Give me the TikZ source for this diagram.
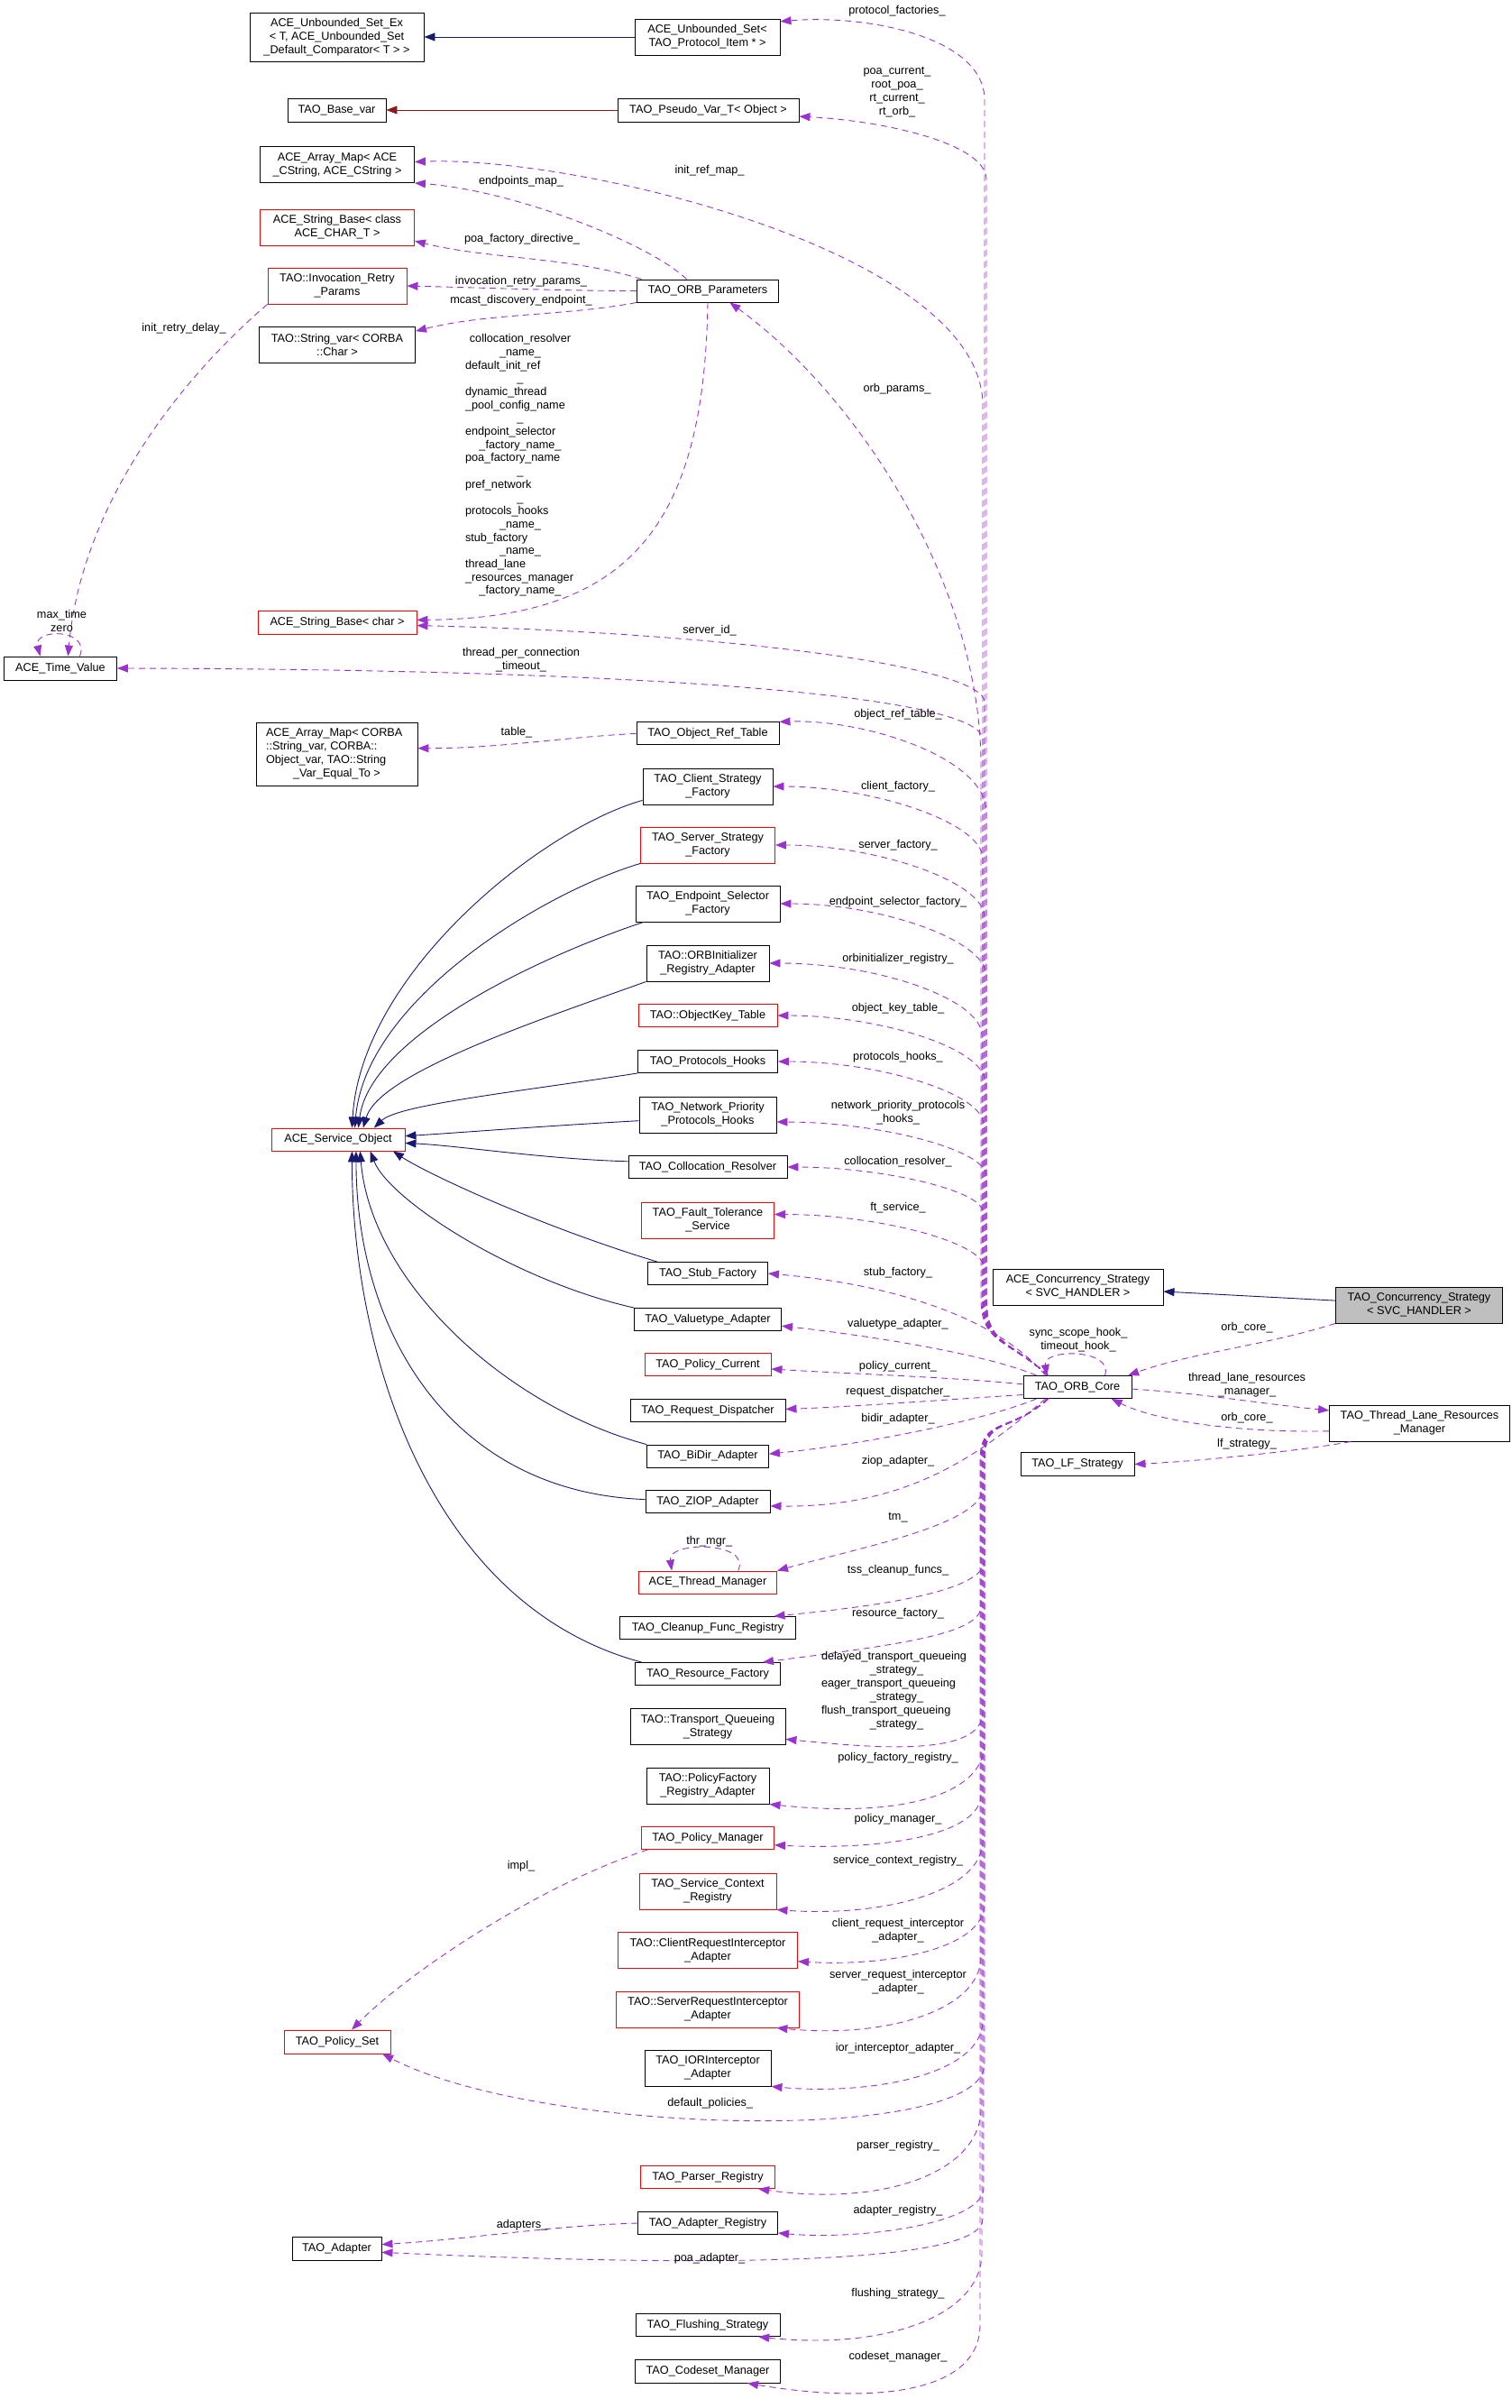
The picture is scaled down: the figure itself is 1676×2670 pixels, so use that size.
\documentclass[tikz,border=0pt]{standalone}
\usepackage{fontspec}
\setmainfont{Liberation Sans}
\usetikzlibrary{arrows.meta,calc}
\definecolor{edgepurple}{HTML}{9A32CD}
\definecolor{inhblue}{HTML}{191970}
\definecolor{inhred}{HTML}{8B1A1A}
\definecolor{boxgray}{HTML}{BFBFBF}
\newcommand\dgfont{\fontsize{12.7}{15}\selectfont}
\newcommand\ctrline[2]{\makebox[#1][c]{#2}}
\tikzset{
  cls/.style={draw=black, line width=0.9pt, fill=white, inner sep=2pt, align=center, font=\dgfont, minimum height=25pt},
  clsred/.style={cls, draw=red},
  two/.style={minimum height=40pt},
  lbl/.style={inner sep=0pt, align=center, font=\dgfont},
  member/.style={draw=edgepurple, line width=0.9pt, dash pattern=on 7pt off 5pt, -{Triangle[length=12pt,width=9pt]}},
  pubinh/.style={draw=inhblue, line width=0.9pt, -{Triangle[length=12pt,width=9pt]}},
  privinh/.style={draw=inhred, line width=0.9pt, -{Triangle[length=12pt,width=9pt]}}
}
\newcommand\uplink[5]{\draw[member] ([xshift=28pt]core.north west) .. controls +(-45,-40) and +(0,50) .. ($(bup)+(#2,0)$) -- ($(bup |- #1)+(#2,#3)$) .. controls +(0,#4) and +#5 .. (#1);}
\newcommand\dnlink[5]{\draw[member] ([xshift=28pt]core.south west) .. controls +(-45,40) and +(0,-50) .. ($(bdn)+(#2,0)$) -- ($(bdn |- #1)+(#2,#3)$) .. controls +(0,#4) and +#5 .. (#1);}
\begin{document}
\begin{tikzpicture}[x=1pt, y=-1pt]
\useasboundingbox (0,0) rectangle (1676,2670);

\node (use) at (373.5,41) [cls, minimum width=193pt, minimum height=54pt] {ACE\_Unbounded\_Set\_Ex\\< T, ACE\_Unbounded\_Set\\\_Default\_Comparator< T > >};
\node (us) at (784.5,41) [cls, two, minimum width=161pt] {ACE\_Unbounded\_Set<\\ TAO\_Protocol\_Item * >};
\node (bv) at (373.5,122) [cls, minimum width=109pt, minimum height=26pt] {TAO\_Base\_var};
\node (pv) at (785.5,122) [cls, minimum width=201pt, minimum height=26pt] {TAO\_Pseudo\_Var\_T< Object >};
\node (am) at (374,182.5) [cls, two, minimum width=171pt] {ACE\_Array\_Map< ACE\\\_CString, ACE\_CString >};
\node (sbc) at (374,252) [clsred, two, minimum width=171pt] {ACE\_String\_Base< class\\ ACE\_CHAR\_T >};
\node (irp) at (374,317) [clsred, two, minimum width=154pt] {TAO::Invocation\_Retry\\\_Params};
\node (sv) at (374,382.5) [cls, two, minimum width=173pt] {TAO::String\_var< CORBA\\::Char >};
\node (op) at (785,322.5) [cls, minimum width=157pt] {TAO\_ORB\_Parameters};
\node (sb) at (374,690.5) [clsred, minimum width=176pt, minimum height=26pt] {ACE\_String\_Base< char >};
\node (tv) at (67,741) [cls, minimum width=125pt, minimum height=26pt] {ACE\_Time\_Value};
\node (amc) at (373.5,836) [cls, align=left, minimum width=179pt, minimum height=70pt] {ACE\_Array\_Map< CORBA\\::String\_var, CORBA::\\Object\_var, TAO::String\\\ctrline{157pt}{\_Var\_Equal\_To >}};
\node (ort) at (785,813.3) [cls, minimum width=158pt] {TAO\_Object\_Ref\_Table};
\node (csf) at (785,872) [cls, two, minimum width=144pt] {TAO\_Client\_Strategy\\\_Factory};
\node (ssf) at (785,937) [clsred, two, minimum width=149pt] {TAO\_Server\_Strategy\\\_Factory};
\node (esf) at (785,1002) [cls, two, minimum width=160pt] {TAO\_Endpoint\_Selector\\\_Factory};
\node (orbi) at (785,1068) [cls, two, minimum width=136pt] {TAO::ORBInitializer\\\_Registry\_Adapter};
\node (okt) at (785,1126) [clsred, minimum width=154pt] {TAO::ObjectKey\_Table};
\node (ph) at (785,1177) [cls, minimum width=155pt] {TAO\_Protocols\_Hooks};
\node (npph) at (785,1236) [cls, two, minimum width=152pt] {TAO\_Network\_Priority\\\_Protocols\_Hooks};
\node (cr) at (785,1294) [cls, minimum width=176pt] {TAO\_Collocation\_Resolver};
\node (fts) at (785,1353) [clsred, two, minimum width=147pt] {TAO\_Fault\_Tolerance\\\_Service};
\node (sf) at (785,1412) [cls, minimum width=133pt] {TAO\_Stub\_Factory};
\node (vta) at (785,1463) [cls, minimum width=163pt] {TAO\_Valuetype\_Adapter};
\node (pc) at (785,1513) [clsred, minimum width=140pt] {TAO\_Policy\_Current};
\node (rd) at (785,1564) [cls, minimum width=172pt] {TAO\_Request\_Dispatcher};
\node (bda) at (785,1614.5) [cls, minimum width=135pt] {TAO\_BiDir\_Adapter};
\node (zia) at (785,1665) [cls, minimum width=138pt] {TAO\_ZIOP\_Adapter};
\node (atm) at (785,1754.5) [clsred, minimum width=153pt] {ACE\_Thread\_Manager};
\node (cfr) at (785,1805) [cls, minimum width=195pt] {TAO\_Cleanup\_Func\_Registry};
\node (rf) at (785,1856) [cls, minimum width=161pt] {TAO\_Resource\_Factory};
\node (tqs) at (785,1914.7) [cls, two, minimum width=172pt] {TAO::Transport\_Queueing\\\_Strategy};
\node (pfra) at (785,1980) [cls, two, minimum width=136pt] {TAO::PolicyFactory\\\_Registry\_Adapter};
\node (pm) at (785,2038) [clsred, minimum width=147pt] {TAO\_Policy\_Manager};
\node (scr) at (785,2097) [clsred, two, minimum width=152pt] {TAO\_Service\_Context\\\_Registry};
\node (cria) at (785,2162.5) [clsred, two, minimum width=199pt] {TAO::ClientRequestInterceptor\\\_Adapter};
\node (sria) at (785,2228) [clsred, two, minimum width=203pt] {TAO::ServerRequestInterceptor\\\_Adapter};
\node (ioria) at (785,2293) [cls, two, minimum width=140pt] {TAO\_IORInterceptor\\\_Adapter};
\node (pr) at (785,2414) [clsred, minimum width=149pt] {TAO\_Parser\_Registry};
\node (ar) at (785,2465) [cls, minimum width=155pt] {TAO\_Adapter\_Registry};
\node (fs) at (785,2578) [cls, minimum width=160pt] {TAO\_Flushing\_Strategy};
\node (csm) at (785,2629) [cls, minimum width=161pt, minimum height=26pt] {TAO\_Codeset\_Manager};
\node (aso) at (375,1263.5) [clsred, minimum width=148pt] {ACE\_Service\_Object};
\node (ps) at (374,2264) [clsred, minimum width=118pt, minimum height=26pt] {TAO\_Policy\_Set};
\node (ta) at (373.5,2493) [cls, minimum width=99pt, minimum height=26pt] {TAO\_Adapter};
\node (acs) at (1195.5,1427) [cls, two, minimum width=189pt] {ACE\_Concurrency\_Strategy\\< SVC\_HANDLER >};
\node (tcs) at (1574,1447) [cls, two, fill=boxgray, minimum width=185pt] {TAO\_Concurrency\_Strategy\\< SVC\_HANDLER >};
\node (core) at (1195,1538) [cls, minimum width=120pt] {TAO\_ORB\_Core};
\node (tlrm) at (1574.5,1578) [cls, two, minimum width=200pt] {TAO\_Thread\_Lane\_Resources\\\_Manager};
\node (lfs) at (1195,1623.5) [cls, minimum width=126pt, minimum height=26pt] {TAO\_LF\_Strategy};

\coordinate (bup) at (1092,1440);
\coordinate (bdn) at (1090,1620);

\draw[pubinh] (us) -- (use);
\draw[privinh] (pv) -- (bv);
\draw[pubinh] (tcs) -- (acs);
\draw[pubinh] (csf.192) .. controls +(-113,32) and +(10,-171) .. (aso.40);
\draw[pubinh] (ssf.south west) .. controls +(-110,33) and +(12,-141) .. (aso.35);
\draw[pubinh] (esf.196) .. controls +(-115,38) and +(13,-101) .. (aso.30);
\draw[pubinh] (orbi.south west) .. controls +(-117,42) and +(18,-61) .. (aso.25);
\draw[pubinh] (ph.south west) .. controls +(-127,20) and +(27,-26) .. (aso.18);
\draw[pubinh] (npph.185) .. controls +(-109,6) and +(51,-3) .. (aso.3);
\draw[pubinh] (cr.176) .. controls +(-97,-3) and +(61,3) .. (aso.357);
\draw[pubinh] (sf.167) .. controls +(-132,-40) and +(36,24) .. (aso.348);
\draw[pubinh] (vta.north west) .. controls +(-133,-30) and +(21,54) .. (aso.340);
\draw[pubinh] (bda.north west) .. controls +(-157,-42) and +(12,144) .. (aso.332);
\draw[pubinh] (zia.178) .. controls +(-216,-8) and +(0,200) .. (aso.327);
\draw[pubinh] (rf.170) .. controls +(-235,-63) and +(0,224) .. (aso.320);

\uplink{us.12}{0}{87}{-70}{(95,-8)}
\uplink{pv.356}{2}{70}{-40}{(94,5)}
\uplink{am.2}{-2}{270}{-170}{(180,-7)}
\uplink{op.332}{-4}{513}{-200}{(142,103)}
\uplink{sb.358}{0}{85}{-40}{(340,8)}
\uplink{tv.east}{-2}{79}{-50}{(570,1)}
\uplink{ort.north east}{2}{100}{-60}{(95,-3)}
\uplink{csf.east}{-2}{80}{-40}{(110,0)}
\uplink{ssf.east}{0}{80}{-40}{(110,0)}
\uplink{esf.east}{2}{80}{-40}{(110,0)}
\uplink{orbi.east}{-3}{80}{-40}{(120,0)}
\uplink{okt.east}{1}{75}{-40}{(110,0)}
\uplink{ph.east}{-1}{70}{-35}{(110,0)}
\uplink{npph.354}{2}{60}{-30}{(110,0)}
\uplink{cr.east}{-2}{50}{-25}{(100,0)}
\uplink{fts.5}{0}{60}{-30}{(110,0)}

\draw[member] ([xshift=25pt]core.north west) .. controls +(-50,-60) and +(148,13) .. (sf.east);
\draw[member] ([xshift=15pt]core.north west) .. controls +(-60,-25) and +(90,10) .. (vta.355);
\draw[member] (core.177) .. controls +(-80,-8) and +(80,5) .. (pc.356);
\draw[member] (core.188) .. controls +(-80,5) and +(80,-3) .. (rd.1);
\draw[member] ([xshift=15pt]core.south west) .. controls +(-60,25) and +(100,-10) .. (bda.2);
\draw[member] ([xshift=25pt]core.south west) .. controls +(-70,59) and +(156,2) .. (zia.356);

\dnlink{atm.north east}{0}{-92}{40}{(98,-27)}
\dnlink{cfr.10}{2}{-62}{30}{(147,-14)}
\dnlink{rf.12}{-2}{-62}{30}{(157,-20)}
\dnlink{tqs.351}{0}{-30}{50}{(100,10)}
\dnlink{pfra.south east}{2}{-68}{60}{(140,15)}
\dnlink{pm.354}{-2}{-56}{45}{(120,6)}
\dnlink{scr.south east}{0}{-77}{60}{(110,8)}
\dnlink{cria.353}{2}{-64}{50}{(100,6)}
\dnlink{sria.345}{-2}{-79}{60}{(120,12)}
\dnlink{ioria.south east}{0}{-73}{60}{(110,10)}
\dnlink{ps.345}{2}{11}{90}{(177,91)}
\dnlink{pr.347}{-2}{-89}{70}{(140,20)}
\dnlink{ar.352}{1}{-50}{40}{(90,8)}
\dnlink{ta.355}{0}{-37}{50}{(377,17)}
\dnlink{fs.347}{-1}{-93}{70}{(140,15)}
\dnlink{csm.343}{-3}{-65}{80}{(130,22)}

\draw[member] (op.151) .. controls +(-42,-40) and +(110,8) .. (am.south east);
\draw[member] (op.170) .. controls +(-80,-25) and +(80,20) .. (sbc.350);
\draw[member] (op.west) .. controls +(-80,0) and +(80,2) .. (irp.east);
\draw[member] (op.south west) .. controls +(-80,15) and +(80,-20) .. (sv.10);
\draw[member] (op.south) .. controls +(-4,245) and +(238,-2) .. (sb.2);
\draw[member] (irp.south west) .. controls +(-97,83) and +(15,-168) .. (tv.58);
\draw[member] (tv.32) .. controls +(12,-31) and +(-8,-31) .. (tv.149);
\draw[member] (ort.west) .. controls +(-90,5) and +(90,0) .. (amc.4);
\draw[member] (atm.21) .. controls +(15,-33) and +(-5,-33) .. (atm.162);
\draw[member] (core.23) .. controls +(10,-30) and +(-5,-30) .. (core.159);
\draw[member] (pm.191) .. controls +(-123,40) and +(60,-61) .. (ps.40);
\draw[member] (ar.west) .. controls +(-100,3) and +(100,-6) .. (ta.5);
\draw[member] (tcs.south west) .. controls +(-80,25) and +(70,-25) .. (core.13);
\draw[member] (core.358) .. controls +(80,5) and +(-80,-8) .. (tlrm.172);
\draw[member] (tlrm.185) .. controls +(-100,2) and +(50,25) .. (core.341);
\draw[member] (tlrm.195) .. controls +(-48,9) and +(82,-4) .. (lfs.east);

\node (lprot) at (995,12) [lbl] {protocol\_factories\_};
\node (lpoa) at (995,102) [lbl] {poa\_current\_\\root\_poa\_\\rt\_current\_\\rt\_orb\_};
\node (linit) at (787,189) [lbl] {init\_ref\_map\_};
\node (lendp) at (578,201) [lbl] {endpoints\_map\_};
\node (lpfd) at (579,265) [lbl] {poa\_factory\_directive\_};
\node (linv) at (578,312) [lbl] {invocation\_retry\_params\_};
\node (lmcast) at (578,333) [lbl] {mcast\_discovery\_endpoint\_};
\node (lnames) at (577,516) [lbl, align=left, font=\fontsize{12.7}{14.7}\selectfont] {\ctrline{122pt}{collocation\_resolver}\\
\ctrline{122pt}{\_name\_}\\
default\_init\_ref\\
\ctrline{122pt}{\_}\\
dynamic\_thread\\
\_pool\_config\_name\\
\ctrline{122pt}{\_}\\
endpoint\_selector\\
\ctrline{122pt}{\_factory\_name\_}\\
poa\_factory\_name\\
\ctrline{122pt}{\_}\\
pref\_network\\
\ctrline{122pt}{\_}\\
protocols\_hooks\\
\ctrline{122pt}{\_name\_}\\
stub\_factory\\
\ctrline{122pt}{\_name\_}\\
thread\_lane\\
\_resources\_manager\\
\ctrline{122pt}{\_factory\_name\_}};
\node (lorbp) at (995,431) [lbl] {orb\_params\_};
\node (lsid) at (787,699) [lbl] {server\_id\_};
\node (ltpc) at (578,731.5) [lbl] {thread\_per\_connection\\\_timeout\_};
\node (lird) at (204,364) [lbl] {init\_retry\_delay\_};
\node (lmax) at (68.5,688.5) [lbl] {max\_time\\zero};
\node (lort) at (996,792.7) [lbl] {object\_ref\_table\_};
\node (ltab) at (573,812) [lbl] {table\_};
\node (lcsf) at (996,872.7) [lbl] {client\_factory\_};
\node (lssf) at (996,937) [lbl] {server\_factory\_};
\node (lesf) at (996,1000.7) [lbl] {endpoint\_selector\_factory\_};
\node (lorbi) at (996,1063) [lbl] {orbinitializer\_registry\_};
\node (lokt) at (996,1118.7) [lbl] {object\_key\_table\_};
\node (lph) at (996,1172) [lbl] {protocols\_hooks\_};
\node (lnpph) at (996,1233.7) [lbl] {network\_priority\_protocols\\\_hooks\_};
\node (lcr) at (996,1287.7) [lbl] {collocation\_resolver\_};
\node (lfts) at (996,1338.7) [lbl] {ft\_service\_};
\node (lsf) at (996,1411) [lbl] {stub\_factory\_};
\node (lvta) at (996,1467.7) [lbl] {valuetype\_adapter\_};
\node (lpc) at (996,1515) [lbl] {policy\_current\_};
\node (lrd) at (996,1543.3) [lbl] {request\_dispatcher\_};
\node (lbda) at (996,1572.7) [lbl] {bidir\_adapter\_};
\node (lzia) at (996,1620) [lbl] {ziop\_adapter\_};
\node (ltm) at (996,1682.7) [lbl] {tm\_};
\node (lthr) at (786.7,1709.3) [lbl] {thr\_mgr\_};
\node (ltss) at (996,1741) [lbl] {tss\_cleanup\_funcs\_};
\node (lrf) at (996,1789) [lbl] {resource\_factory\_};
\node (ltqs) at (994.5,1874.3) [lbl, align=left] {delayed\_transport\_queueing\\
\ctrline{167pt}{\_strategy\_}\\
eager\_transport\_queueing\\
\ctrline{167pt}{\_strategy\_}\\
flush\_transport\_queueing\\
\ctrline{167pt}{\_strategy\_}};
\node (lpfra) at (996,1949) [lbl] {policy\_factory\_registry\_};
\node (lpm) at (996,2016.7) [lbl] {policy\_manager\_};
\node (lscr) at (996,2062.7) [lbl] {service\_context\_registry\_};
\node (lcria) at (996,2140.2) [lbl] {client\_request\_interceptor\\\_adapter\_};
\node (lsria) at (996,2197.8) [lbl] {server\_request\_interceptor\\\_adapter\_};
\node (lioria) at (996,2270.7) [lbl] {ior\_interceptor\_adapter\_};
\node (ldefp) at (787.7,2331.7) [lbl] {default\_policies\_};
\node (limpl) at (578,2069) [lbl] {impl\_};
\node (lpr) at (996,2379) [lbl] {parser\_registry\_};
\node (lar) at (996,2450.7) [lbl] {adapter\_registry\_};
\node (ladp) at (579,2467) [lbl] {adapters\_};
\node (lpoaa) at (787,2504) [lbl] {poa\_adapter\_};
\node (lfs) at (996,2542.7) [lbl] {flushing\_strategy\_};
\node (lcsm) at (996,2613) [lbl] {codeset\_manager\_};
\node (lsync) at (1196,1486) [lbl] {sync\_scope\_hook\_\\timeout\_hook\_};
\node (locs) at (1383,1472) [lbl] {orb\_core\_};
\node (ltlrm) at (1383,1535.5) [lbl] {thread\_lane\_resources\\\_manager\_};
\node (locl) at (1383,1572) [lbl] {orb\_core\_};
\node (llf) at (1383,1601) [lbl] {lf\_strategy\_};
\end{tikzpicture}
\end{document}
